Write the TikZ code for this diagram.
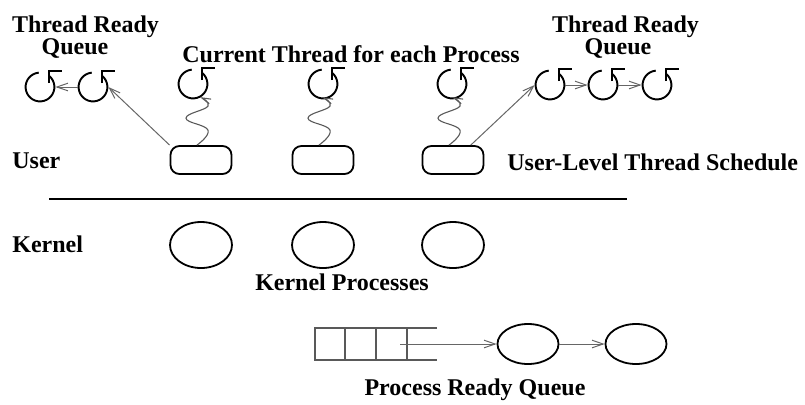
\documentclass[tikz,border=0pt]{standalone}
\usepackage{fontspec}
\setmainfont{Liberation Serif}
\usetikzlibrary{arrows.meta,shapes.geometric,calc}
\newcommand\thrglyph[2]{\node[thrnode] (#1) at (#2) {}; \pic at (#1) {glyph};}
\newcommand\wavyline[1]{\draw[wave, shift={(#1.north)}] plot[smooth, tension=0.75] coordinates {(-4,0) (7,15) (-15,27) (7,39) (-1,48)};}
\begin{document}
\begin{tikzpicture}[x=0.5pt,y=0.5pt,
  lab/.style={font=\fontsize{12}{13}\selectfont\bfseries, inner sep=0pt},
  thrnode/.style={circle, minimum size=15pt, inner sep=0pt},
  urect/.style={draw, line width=0.9pt, rounded corners=4.5pt, minimum width=30.5pt, minimum height=14pt, inner sep=0pt},
  kell/.style={draw, ellipse, line width=0.9pt, minimum width=31pt, minimum height=23pt, inner sep=0pt},
  pell/.style={draw, ellipse, line width=0.9pt, minimum width=30.5pt, minimum height=20pt, inner sep=0pt},
  arr/.style={draw=black!60, line width=0.5pt, -{Straight Barb[length=5.5pt,width=3.8pt]}},
  wave/.style={draw=black!65, line width=0.55pt, -{Straight Barb[length=4.5pt,width=2.5pt]}},
  qline/.style={draw=black!65, line width=0.7pt},
  glyph/.pic={
    \draw[line width=0.95pt] (95:7.2pt) arc[start angle=95, end angle=410, radius=7.2pt];
    \draw[line width=0.95pt] (4.6pt,2pt) -- (4.6pt,8.2pt) -- (11pt,8.2pt);
  }
]
\useasboundingbox (0,0) rectangle (805,-404);

% labels
\node[lab, anchor=base] (tl1) at (85.5,-32) {Thread Ready};
\node[lab, anchor=base] (tl2) at (75,-54) {Queue};
\node[lab, anchor=base] (ct) at (351,-62) {Current Thread for each Process};
\node[lab, anchor=base] (tr1) at (625.5,-32) {Thread Ready};
\node[lab, anchor=base] (tr2) at (618,-54) {Queue};
\node[lab, anchor=base west] (user) at (12,-168) {User};
\node[lab, anchor=base west] (ults) at (507,-170) {User-Level Thread Schedule};
\node[lab, anchor=base west] (kern) at (12,-252) {Kernel};
\node[lab, anchor=base] (kp) at (342,-290) {Kernel Processes};
\node[lab, anchor=base] (prq) at (475,-395) {Process Ready Queue};

% thread glyphs
\thrglyph{a1}{40,-87}
\thrglyph{a2}{93,-87}
\thrglyph{g1}{193,-84}
\thrglyph{g2}{323,-84}
\thrglyph{g3}{452,-84}
\thrglyph{c1}{550,-85}
\thrglyph{c2}{603,-85}
\thrglyph{c3}{657,-85}

% user-level process boxes
\node[urect] (r1) at (201,-160) {};
\node[urect] (r2) at (323,-160) {};
\node[urect] (r3) at (453,-160) {};

% divider
\coordinate (d1) at (49,-199);
\coordinate (d2) at (627,-199);
\draw[line width=0.9pt] (d1) -- (d2);

% kernel processes
\node[kell] (k1) at (201,-245) {};
\node[kell] (k2) at (323,-245) {};
\node[kell] (k3) at (453,-245) {};

% waves: process box -> its current thread
\wavyline{r1}
\wavyline{r2}
\wavyline{r3}

% queue arrows
\draw[arr] (a2) -- (a1);
\draw[arr] (r1.north west) -- (a2.east);
\draw[arr] (r3.40) -- (c1.west);
\draw[arr] (c1) -- (c2);
\draw[arr] (c2) -- (c3);

% process ready queue
\draw[qline] (437,-328) -- (315,-328) -- (315,-360) -- (437,-360);
\draw[qline] (345,-328) -- (345,-360);
\draw[qline] (376,-328) -- (376,-360);
\draw[qline] (407,-328) -- (407,-360);
\node[pell] (p1) at (528,-344) {};
\node[pell] (p2) at (636,-344) {};
\coordinate (qa) at (400,-344);
\draw[arr] (qa) -- (p1);
\draw[arr] (p1) -- (p2);
\end{tikzpicture}
\end{document}
